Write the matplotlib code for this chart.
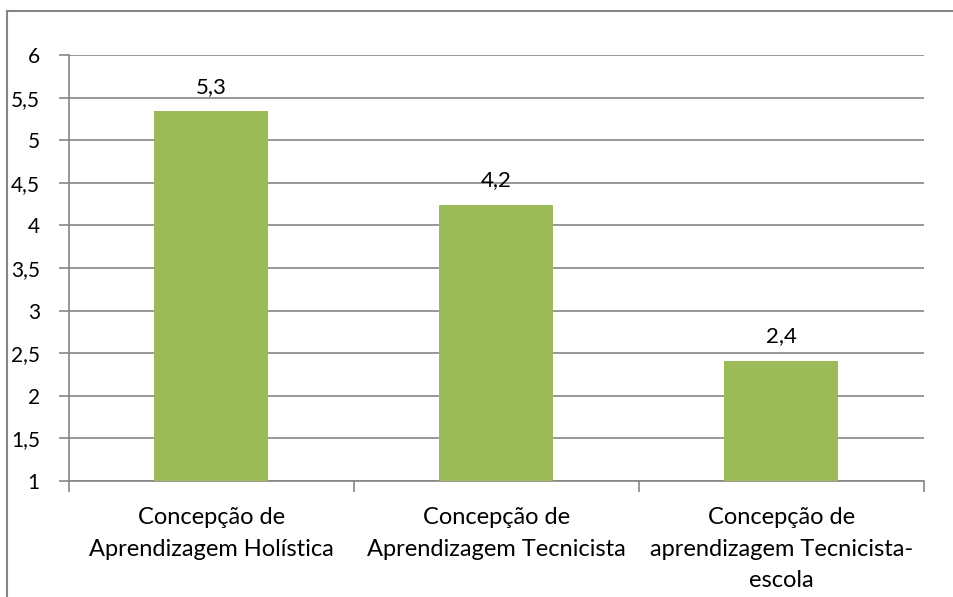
import matplotlib.pyplot as plt
from matplotlib.lines import Line2D

categories = [
    "Concepção de\nAprendizagem Holística",
    "Concepção de\nAprendizagem Tecnicista",
    "Concepção de\naprendizagem Tecnicista-\nescola",
]
values = [5.34, 4.24, 2.41]
value_labels = ["5,3", "4,2", "2,4"]
y_ticks = [1, 1.5, 2, 2.5, 3, 3.5, 4, 4.5, 5, 5.5, 6]
y_tick_labels = ["1", "1,5", "2", "2,5", "3", "3,5", "4", "4,5", "5", "5,5", "6"]

plt.rcParams["font.family"] = ["Lato", "DejaVu Sans"]
grey = "#868686"

fig = plt.figure(figsize=(9.54, 5.97), dpi=100)
ax = fig.add_axes([69 / 954, 1 - 481 / 597, (924 - 69) / 954, (481 - 55) / 597])

x = range(len(categories))
ax.bar(x, values, width=0.4, bottom=0, color="#9BBB59", zorder=3)
for xi, v, lab in zip(x, values, value_labels):
    ax.text(xi, v + 0.17, lab, ha="center", va="bottom", fontsize=16, color="black")

ax.set_xlim(-0.5, 2.5)
ax.set_ylim(1, 6)
ax.set_yticks(y_ticks)
ax.set_yticklabels(y_tick_labels, fontsize=15)
ax.yaxis.grid(True, color=grey, linewidth=1.2, zorder=0)
ax.tick_params(axis="y", length=7, color=grey, width=1.2, pad=14)

ax.set_xticks([-0.5, 0.5, 1.5, 2.5])
ax.set_xticklabels([])
ax.tick_params(axis="x", length=8, color=grey, width=1.2)
for xi, cat in zip(x, categories):
    ax.text(xi, -0.062, cat, ha="center", va="top", fontsize=17,
            linespacing=1.6, transform=ax.get_xaxis_transform())

for side in ["top", "right"]:
    ax.spines[side].set_visible(False)
for side in ["left", "bottom"]:
    ax.spines[side].set_color(grey)
    ax.spines[side].set_linewidth(1.2)

# chart frame
fig.add_artist(Line2D([7 / 954, 7 / 954], [0, 1 - 11 / 597], color=grey, linewidth=1.5))
fig.add_artist(Line2D([7 / 954, 1], [1 - 11 / 597, 1 - 11 / 597], color=grey, linewidth=1.5))

fig.savefig("out.png", dpi=100)
